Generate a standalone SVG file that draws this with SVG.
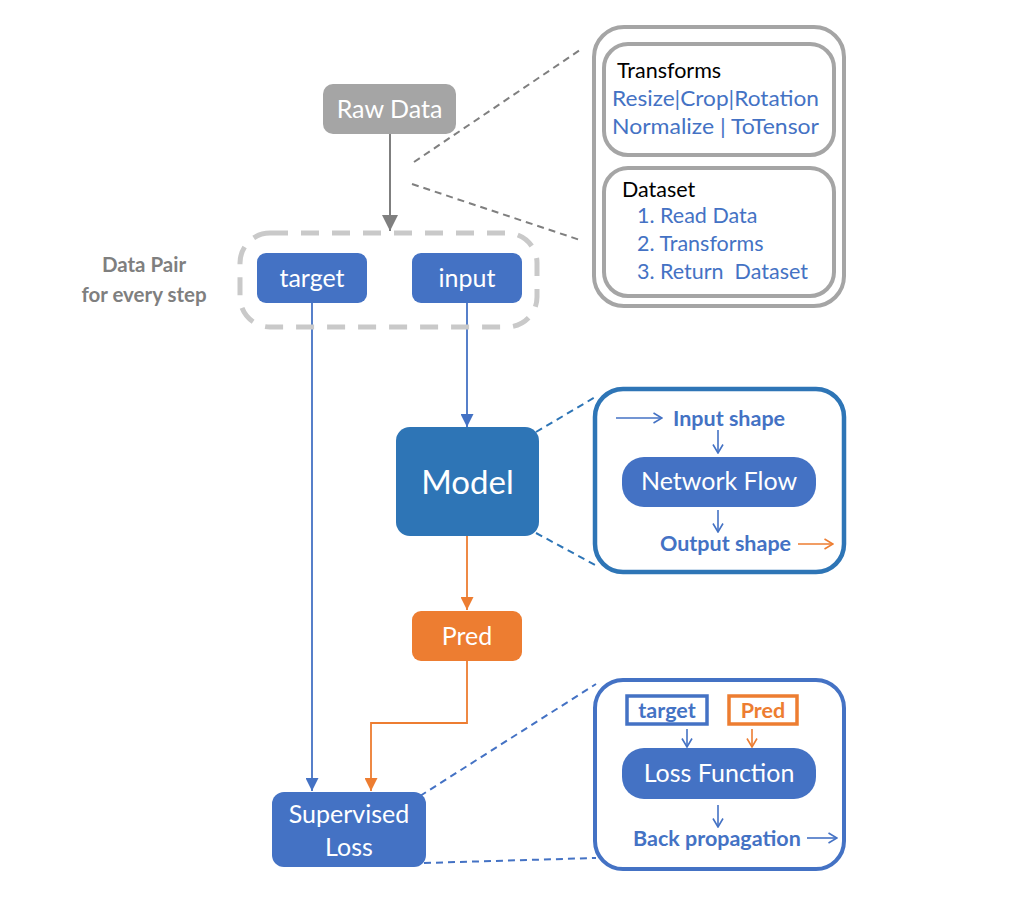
<svg xmlns="http://www.w3.org/2000/svg" width="1009" height="905" viewBox="0 0 1009 905">
<style>
text{font-family:Lato,"Open Sans","Liberation Sans",sans-serif}
.w{fill:#fff;font-size:25px;text-anchor:middle}
.blk{fill:#000;font-size:21.5px}
.bl{fill:#4472c4;font-size:21.5px}
.bb{fill:#4472c4;font-size:21.5px;font-weight:bold}
.ob{fill:#ed7d31;font-size:21.5px;font-weight:bold}
.gb{fill:#7f7f7f;font-size:20.5px;font-weight:bold;text-anchor:middle}
.blue{fill:#4472c4}
.dash-g{stroke:#7f7f7f;stroke-width:2;stroke-dasharray:7 5;fill:none}
.dash-b{stroke:#4472c4;stroke-width:2;stroke-dasharray:7 5;fill:none}
.dash-m{stroke:#2e75b6;stroke-width:2;stroke-dasharray:7 5;fill:none}
</style>
<defs>
<marker id="ag" viewBox="0 0 10 10" refX="10" refY="5" markerWidth="16" markerHeight="16" markerUnits="userSpaceOnUse" orient="auto"><path d="M0,0 L10,5 L0,10 z" fill="#7f7f7f"/></marker>
<marker id="ab" viewBox="0 0 10 10" refX="10" refY="5" markerWidth="13" markerHeight="13" markerUnits="userSpaceOnUse" orient="auto"><path d="M0,0 L10,5 L0,10 z" fill="#4472c4"/></marker>
<marker id="ao" viewBox="0 0 10 10" refX="10" refY="5" markerWidth="13" markerHeight="13" markerUnits="userSpaceOnUse" orient="auto"><path d="M0,0 L10,5 L0,10 z" fill="#ed7d31"/></marker>
<marker id="cb" viewBox="0 0 10 12" refX="9.5" refY="6" markerWidth="10" markerHeight="12" markerUnits="userSpaceOnUse" orient="auto"><path d="M1,1 L9.5,6 L1,11" fill="none" stroke="#4472c4" stroke-width="1.6"/></marker>
<marker id="co" viewBox="0 0 10 12" refX="9.5" refY="6" markerWidth="10" markerHeight="12" markerUnits="userSpaceOnUse" orient="auto"><path d="M1,1 L9.5,6 L1,11" fill="none" stroke="#ed7d31" stroke-width="1.6"/></marker>
</defs>
<rect width="1009" height="905" fill="#fff"/>

<g id="connectors">
<line x1="390" y1="134" x2="390" y2="231" stroke="#7f7f7f" stroke-width="2" marker-end="url(#ag)"/>
<line x1="467" y1="303" x2="467" y2="427" stroke="#4472c4" stroke-width="1.8" marker-end="url(#ab)"/>
<line x1="312" y1="303" x2="312" y2="791" stroke="#4472c4" stroke-width="1.8" marker-end="url(#ab)"/>
<line x1="467" y1="536" x2="467" y2="610" stroke="#ed7d31" stroke-width="1.8" marker-end="url(#ao)"/>
<polyline points="467,661 467,723 371,723 371,791" fill="none" stroke="#ed7d31" stroke-width="1.8" marker-end="url(#ao)"/>
<line x1="414" y1="162" x2="580" y2="50" class="dash-g"/>
<line x1="412" y1="184" x2="580" y2="240" class="dash-g"/>
<line x1="536" y1="432" x2="597" y2="396" class="dash-m"/>
<line x1="536" y1="533" x2="597" y2="566" class="dash-m"/>
<line x1="420" y1="796" x2="596" y2="684" class="dash-b"/>
<line x1="424" y1="863" x2="596" y2="858" class="dash-b"/>
</g>

<g id="raw-data">
<rect x="323" y="84" width="133" height="50" rx="10" fill="#a5a5a5"/>
<text class="w" x="389.5" y="118">Raw Data</text>
</g>

<g id="data-pair">
<rect x="240" y="233" width="297" height="94" rx="30" fill="none" stroke="#c9c9c9" stroke-width="5" stroke-dasharray="18 13"/>
<text class="gb" x="144" y="272">Data Pair</text>
<text class="gb" x="144" y="302">for every step</text>
</g>

<g id="target">
<rect x="257" y="253" width="110" height="50" rx="9" class="blue"/>
<text class="w" x="312" y="287">target</text>
</g>

<g id="input">
<rect x="412" y="253" width="110" height="50" rx="9" class="blue"/>
<text class="w" x="467" y="287">input</text>
</g>

<g id="model">
<rect x="396" y="427" width="143" height="109" rx="14" fill="#2e75b6"/>
<text class="w" x="467.5" y="494" style="font-size:33px">Model</text>
</g>

<g id="pred">
<rect x="412" y="611" width="110" height="50" rx="9" fill="#ed7d31"/>
<text class="w" x="467" y="645">Pred</text>
</g>

<g id="supervised-loss">
<rect x="272" y="792" width="154" height="75" rx="12" class="blue"/>
<text class="w" x="349" y="823">Supervised</text>
<text class="w" x="349" y="856">Loss</text>
</g>

<g id="dataset-panel">
<rect x="594" y="27" width="250" height="279" rx="30" fill="none" stroke="#a5a5a5" stroke-width="4"/>
<rect x="604" y="44" width="230" height="111" rx="24" fill="none" stroke="#a5a5a5" stroke-width="4"/>
<rect x="604" y="168" width="230" height="128" rx="24" fill="none" stroke="#a5a5a5" stroke-width="4"/>
<text class="blk" x="617" y="78">Transforms</text>
<text class="bl" x="612" y="106" textLength="207" lengthAdjust="spacingAndGlyphs">Resize|Crop|Rotation</text>
<text class="bl" x="612" y="134" textLength="207" lengthAdjust="spacingAndGlyphs" xml:space="preserve">Normalize | ToTensor</text>
<text class="blk" x="622" y="197">Dataset</text>
<text class="bl" x="637" y="223">1. Read Data</text>
<text class="bl" x="637" y="251">2. Transforms</text>
<text class="bl" x="637" y="279" xml:space="preserve">3. Return  Dataset</text>
</g>

<g id="model-panel">
<rect x="595" y="389" width="249" height="183" rx="28" fill="none" stroke="#2e75b6" stroke-width="4.5"/>
<line x1="616" y1="418" x2="662" y2="418" stroke="#4472c4" stroke-width="1.6" marker-end="url(#cb)"/>
<text class="bb" x="673" y="426">Input shape</text>
<line x1="718" y1="430" x2="718" y2="453" stroke="#4472c4" stroke-width="1.6" marker-end="url(#cb)"/>
<rect x="622" y="457" width="194" height="50" rx="22" class="blue"/>
<text class="w" x="719" y="490">Network Flow</text>
<line x1="718" y1="510" x2="718" y2="532" stroke="#4472c4" stroke-width="1.6" marker-end="url(#cb)"/>
<text class="bb" x="660" y="551">Output shape</text>
<line x1="798" y1="544" x2="833" y2="544" stroke="#ed7d31" stroke-width="1.6" marker-end="url(#co)"/>
</g>

<g id="loss-panel">
<rect x="595" y="680" width="249" height="189" rx="28" fill="none" stroke="#4472c4" stroke-width="4"/>
<rect x="627" y="696" width="80" height="28" fill="#fff" stroke="#4472c4" stroke-width="3.5"/>
<text class="bb" x="667" y="718" text-anchor="middle">target</text>
<rect x="729" y="696" width="68" height="28" fill="#fff" stroke="#ed7d31" stroke-width="3.5"/>
<text class="ob" x="763" y="718" text-anchor="middle">Pred</text>
<line x1="687" y1="729" x2="687" y2="747" stroke="#4472c4" stroke-width="1.6" marker-end="url(#cb)"/>
<line x1="752" y1="729" x2="752" y2="747" stroke="#ed7d31" stroke-width="1.6" marker-end="url(#co)"/>
<rect x="622" y="748" width="194" height="51" rx="22" class="blue"/>
<text class="w" x="719" y="782">Loss Function</text>
<line x1="718" y1="805" x2="718" y2="827" stroke="#4472c4" stroke-width="1.6" marker-end="url(#cb)"/>
<text class="bb" x="633" y="846">Back propagation</text>
<line x1="807" y1="838" x2="837" y2="838" stroke="#4472c4" stroke-width="1.6" marker-end="url(#cb)"/>
</g>
</svg>
